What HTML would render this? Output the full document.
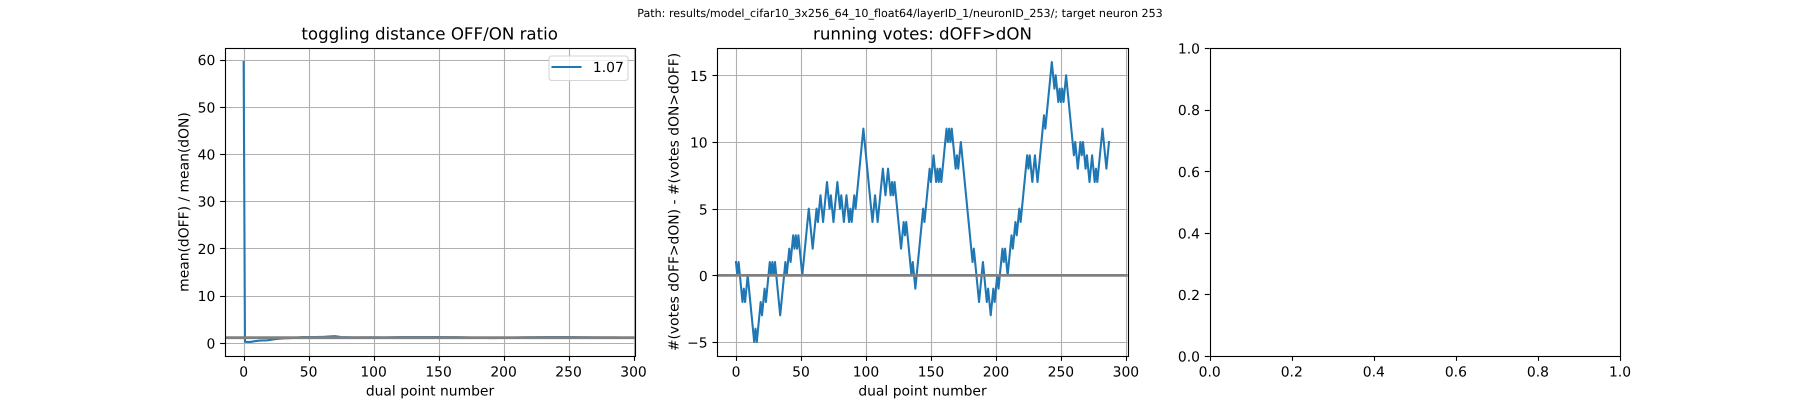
<!DOCTYPE html>
<html lang="en">
<head>
<meta charset="utf-8">
<title>Toggling distance and running votes</title>
<style>
html,body{margin:0;padding:0;background:#fff;width:1800px;height:400px;overflow:hidden}
svg{display:block}
text{font-family:"DejaVu Sans","Liberation Sans",sans-serif;fill:#000;text-rendering:geometricPrecision}
.tick{font-size:13.89px}
.title{font-size:16.67px;text-anchor:middle}
.label{font-size:13.89px;text-anchor:middle}
</style>
</head>
<body>
<svg id="figure" xmlns="http://www.w3.org/2000/svg" width="1800" height="400" viewBox="0 0 1800 400">
  <rect x="0" y="0" width="1800" height="400" fill="#fff"/>
  <text x="900" y="17" font-size="11.11" text-anchor="middle">Path: results/model_cifar10_3x256_64_10_float64/layerID_1/neuronID_253/; target neuron 253</text>

  <g id="ratio-axes"></g>
  <text class="title" x="429.7" y="39.7">toggling distance OFF/ON ratio</text>
  <text class="label" x="430" y="395.3">dual point number</text>
  <text class="label" transform="translate(188.7,202) rotate(-90)">mean(dOFF) / mean(dON)</text>
  <g>
    <rect x="549" y="56" width="79" height="24.5" rx="2.8" ry="2.8" fill="#fff" fill-opacity="0.8" stroke="#ccc" stroke-opacity="0.8" stroke-width="1.1"/>
    <line x1="552.5" y1="67" x2="580.5" y2="67" stroke="#1f77b4" stroke-width="2.08" stroke-linecap="square"/>
    <text class="tick" x="592.9" y="72.2">1.07</text>
  </g>

  <g id="votes-axes"></g>
  <text class="title" x="922.5" y="39.7">running votes: dOFF&gt;dON</text>
  <text class="label" x="922.5" y="395.3">dual point number</text>
  <text class="label" transform="translate(678.3,202) rotate(-90)">#(votes dOFF&gt;dON) - #(votes dON&gt;dOFF)</text>

  <g id="empty-axes"></g>
</svg>
<script>
// ---- chart data ----
const ratioPointNumbers = [0,1,5,8,12,18,25,30,38,45,55,62,70,75,85,100,110,120,135,150,165,175,190,205,215,235,250,265,275,287];
const ratioValues = [59.47,0.2,0.16,0.3,0.45,0.5,0.8,0.9,1.0,1.2,1.2,1.25,1.38,1.22,1.12,1.15,1.12,1.22,1.22,1.22,1.18,1.1,0.98,1.05,1.15,1.2,1.22,1.15,1.12,1.12];
const ratioReference = [1.07];
const ratioXTicks = [0,50,100,150,200,250,300];
const ratioYTicks = [0,10,20,30,40,50,60];

const votesValues = [
1,0,1,0,-1,-2,-1,-2,-1,0,
-1,-2,-3,-4,-5,-4,-5,-4,-3,-2,
-3,-2,-1,-2,-1,0,1,0,1,0,
1,0,-1,-2,-3,-2,-1,0,1,0,
1,2,1,2,3,2,3,2,3,2,
1,0,1,2,3,4,5,4,3,2,
3,4,5,4,5,6,5,4,5,6,
7,6,5,6,5,4,5,6,7,6,
5,6,5,4,5,6,5,4,5,4,
5,6,5,6,7,8,9,10,11,10,
9,8,7,6,5,4,5,6,5,4,
5,6,7,8,7,6,7,8,7,6,
7,6,7,6,5,4,3,2,3,4,
3,4,3,2,1,0,1,0,-1,0,
1,2,3,4,5,4,5,6,7,8,
7,8,9,8,7,8,7,8,7,8,
9,10,11,10,11,10,11,10,9,8,
9,8,9,10,9,8,7,6,5,4,
3,2,1,2,1,0,-1,-2,-1,0,
1,0,-1,-2,-1,-2,-3,-2,-1,-2,
-1,0,-1,0,1,2,1,2,1,0,
1,2,3,2,3,4,3,4,5,4,
5,6,7,8,9,8,9,8,7,8,
9,8,7,8,9,10,11,12,11,12,
13,14,15,16,15,14,15,14,13,14,
13,14,13,14,15,14,13,12,11,10,
9,10,9,8,9,10,9,10,9,8,
9,8,7,8,9,8,7,8,7,8,
9,10,11,10,9,8,9,10];
const votesReference = [0];
const votesXTicks = [0,50,100,150,200,250,300];
const votesYTicks = [-5,0,5,10,15];

const emptyTicks = [0,0.2,0.4,0.6,0.8,1];
const emptyTickLabels = ["0.0","0.2","0.4","0.6","0.8","1.0"];

// ---- drawing helpers ----
const SVGNS = "http://www.w3.org/2000/svg";
function mk(tag, attrs, parent, txt) {
  const el = document.createElementNS(SVGNS, tag);
  for (const k in attrs) el.setAttribute(k, attrs[k]);
  if (txt !== undefined) el.textContent = txt;
  parent.appendChild(el);
  return el;
}
function snap(v) { return Math.round(v) + 0.5; }
function scale(d0, d1, p0, p1) { return v => p0 + (v - d0) * (p1 - p0) / (d1 - d0); }
function fmt(v) { return (v < 0 ? "\u2212" + (-v) : String(v)); }

function drawGrid(group, box, xs, ys, xTicks, yTicks) {
  xTicks.forEach(t => {
    const gl = mk("line", {x1: snap(xs(t)), x2: snap(xs(t)), y1: box.top, y2: box.bottom, stroke: "#b0b0b0", "stroke-width": 1.11}, group);
    
    
  });
  yTicks.forEach(t => {
    const gl = mk("line", {x1: box.left, x2: box.right, y1: snap(ys(t)), y2: snap(ys(t)), stroke: "#b0b0b0", "stroke-width": 1.11}, group);
    
    
  });
}
function drawOverlay(group, box, xs, ys, xTicks, xLabels, yTicks, yLabels) {
  xTicks.forEach((t, i) => {
    const x = snap(xs(t));
    const tm = mk("line", {x1: x, x2: x, y1: box.bottom, y2: box.bottom + 4.86, stroke: "#000", "stroke-width": 1.11}, group);
    
    
    const lb = mk("text", {class: "tick", x: xs(t), y: box.bottom + 20.4, "text-anchor": "middle"}, group, xLabels[i]);
    
    
  });
  yTicks.forEach((t, i) => {
    const y = snap(ys(t));
    const tm = mk("line", {x1: box.left - 4.86, x2: box.left, y1: y, y2: y, stroke: "#000", "stroke-width": 1.11}, group);
    
    
    const lb = mk("text", {class: "tick", x: box.left - 9.7, y: ys(t) + 5.6, "text-anchor": "end"}, group, yLabels[i]);
    
    
  });
  const sp = mk("rect", {x: snap(box.left), y: snap(box.top), width: snap(box.right) - snap(box.left), height: snap(box.bottom) - snap(box.top), fill: "none", stroke: "#000", "stroke-width": 1.11}, group);
  
  
}
function clipFor(id, box) {
  const cp = mk("clipPath", {id: id}, document.getElementById("figure"));
  
  
  mk("rect", {x: box.left, y: box.top, width: box.right - box.left, height: box.bottom - box.top}, cp);
  return "url(#" + id + ")";
}

// ---- ratio axes ----
(function () {
  const box = {left: 225, right: 635.29, top: 48, bottom: 356};
  const group = document.getElementById("ratio-axes");
  const xs = scale(-14.35, 301.35, box.left, box.right);
  const ys = scale(-2.81, 62.44, box.bottom, box.top);
  const clip = clipFor("clip-ratio", box);
  drawGrid(group, box, xs, ys, ratioXTicks, ratioYTicks);
  const pts = ratioValues.map((v, i) => xs(ratioPointNumbers[i]).toFixed(2) + "," + ys(v).toFixed(2)).join(" ");
  const line = mk("polyline", {points: pts, fill: "none", stroke: "#1f77b4", "stroke-width": 2.08, "stroke-linejoin": "round", "stroke-linecap": "square", "clip-path": clip}, group);
  
  
  ratioReference.forEach(v => {
    const ref = mk("line", {x1: box.left, x2: box.right, y1: ys(v), y2: ys(v), stroke: "#808080", "stroke-width": 2.78}, group);
    
    
  });
  drawOverlay(group, box, xs, ys, ratioXTicks, ratioXTicks.map(fmt), ratioYTicks, ratioYTicks.map(fmt));
})();

// ---- votes axes ----
(function () {
  const box = {left: 717.35, right: 1127.65, top: 48, bottom: 356};
  const group = document.getElementById("votes-axes");
  const xs = scale(-14.35, 301.35, box.left, box.right);
  const ys = scale(-6.05, 17.05, box.bottom, box.top);
  const clip = clipFor("clip-votes", box);
  drawGrid(group, box, xs, ys, votesXTicks, votesYTicks);
  const pts = votesValues.map((v, i) => xs(i).toFixed(2) + "," + ys(v).toFixed(2)).join(" ");
  const line = mk("polyline", {points: pts, fill: "none", stroke: "#1f77b4", "stroke-width": 2.08, "stroke-linejoin": "round", "stroke-linecap": "square", "clip-path": clip}, group);
  
  
  votesReference.forEach(v => {
    const ref = mk("line", {x1: box.left, x2: box.right, y1: ys(v), y2: ys(v), stroke: "#808080", "stroke-width": 2.78}, group);
    
    
  });
  drawOverlay(group, box, xs, ys, votesXTicks, votesXTicks.map(fmt), votesYTicks, votesYTicks.map(fmt));
})();

// ---- empty axes ----
(function () {
  const box = {left: 1209.71, right: 1620, top: 48, bottom: 356};
  const group = document.getElementById("empty-axes");
  const xs = scale(0, 1, box.left, box.right);
  const ys = scale(0, 1, box.bottom, box.top);
  drawOverlay(group, box, xs, ys, emptyTicks, emptyTickLabels, emptyTicks, emptyTickLabels);
})();
</script>
</body>
</html>
